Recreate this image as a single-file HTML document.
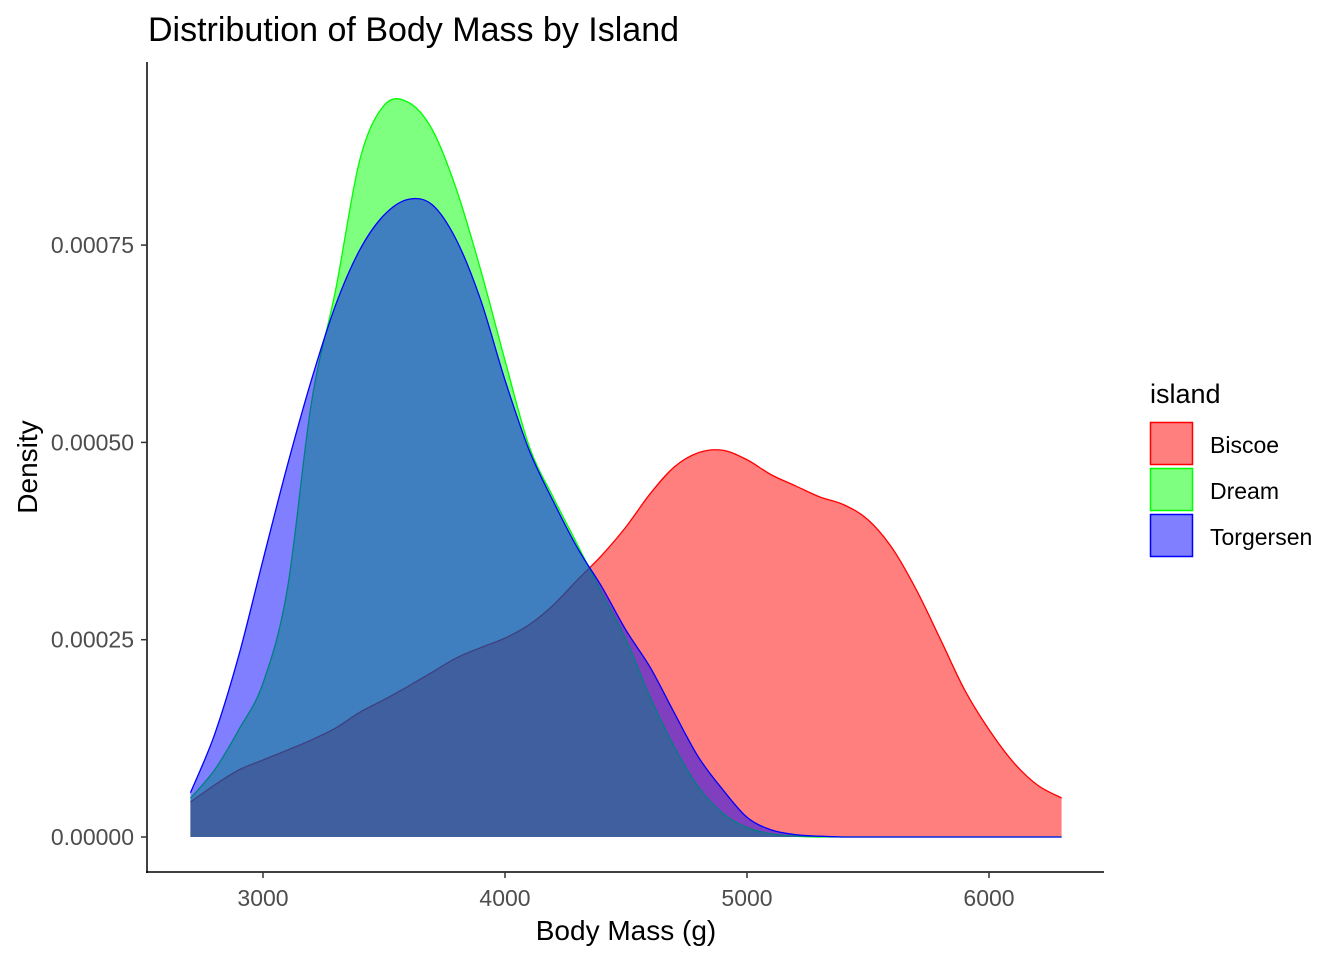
<!DOCTYPE html>
<html><head><meta charset="utf-8"><style>
body{margin:0;background:#fff;}
svg{display:block;font-family:"Liberation Sans",Arial,sans-serif;}
</style></head><body>
<svg id="chart" width="1344" height="960">
<text x="148" y="41" font-size="34" fill="#000">Distribution of Body Mass by Island</text>
<g id="plot"></g>
<line x1="147" y1="62" x2="147" y2="873" stroke="#000" stroke-width="1.5"/>
<line x1="146" y1="872" x2="1104" y2="872" stroke="#000" stroke-width="1.5"/>
<g id="xticks"></g>
<g id="yticks"></g>
<text x="626" y="940" font-size="28" text-anchor="middle">Body Mass (g)</text>
<text transform="translate(37,467) rotate(-90)" font-size="28" text-anchor="middle">Density</text>
<g>
<text x="1150" y="403" font-size="27">island</text>
<g><rect x="1150.5" y="422.5" width="42" height="42" fill="rgba(255,0,0,0.5)" stroke="#f00" stroke-width="1.5"/><text x="1210" y="453" font-size="23">Biscoe</text></g>
<g><rect x="1150.5" y="468.5" width="42" height="42" fill="rgba(0,255,0,0.5)" stroke="#0f0" stroke-width="1.5"/><text x="1210" y="499" font-size="23">Dream</text></g>
<g><rect x="1150.5" y="514.5" width="42" height="42" fill="rgba(0,0,255,0.5)" stroke="#00f" stroke-width="1.5"/><text x="1210" y="545" font-size="23">Torgersen</text></g>
</g>
</svg>
<script>
const massGrid = [2700,2800,2900,3000,3100,3200,3300,3400,3500,3600,3700,3800,3900,4000,4100,4200,4300,4400,4500,4600,4700,4800,4900,5000,5100,5200,5300,5400,5500,5600,5700,5800,5900,6000,6100,6200,6300];
const biscoeDensity = [0.0000443,0.0000659,0.0000849,0.0000976,0.000110,0.000123,0.000138,0.000158,0.000174,0.000191,0.000209,0.000227,0.000240,0.000252,0.000269,0.000294,0.000326,0.000357,0.000393,0.000435,0.000469,0.000487,0.000490,0.000478,0.000459,0.000445,0.000431,0.000421,0.000402,0.000366,0.000313,0.000250,0.000186,0.000136,0.0000950,0.0000659,0.0000494];
const dreamDensity = [0.0000490,0.0000850,0.000136,0.000195,0.000313,0.000550,0.000693,0.000858,0.000927,0.000931,0.000896,0.000820,0.000718,0.000604,0.000495,0.000430,0.000370,0.000309,0.000250,0.000177,0.000114,0.0000630,0.0000300,0.0000120,0.0000040,0.0000010,0,0,0,0,0,0,0,0,0,0,0];
const torgersenDensity = [0.0000560,0.000130,0.000230,0.000351,0.000470,0.000579,0.000674,0.000744,0.000788,0.000808,0.000801,0.000756,0.000680,0.000579,0.000490,0.000425,0.000366,0.000317,0.000262,0.000215,0.000157,0.000101,0.0000600,0.0000250,0.0000090,0.0000030,0.0000010,0,0,0,0,0,0,0,0,0,0];
const xTicks = [3000,4000,5000,6000];
const yTicks = [0,0.00025,0.0005,0.00075];
const yTickLabels = ["0.00000","0.00025","0.00050","0.00075"];

const NS="http://www.w3.org/2000/svg";
const xScale = v => 263 + (v-3000)*0.242;
const yScale = v => 837 - v/0.00025*197.3;

function pathFor(vals){
  const pts = massGrid.map((m,i)=>[xScale(m), yScale(vals[i])]);
  let d = "M"+pts[0][0]+","+pts[0][1];
  for(let i=0;i<pts.length-1;i++){
    const p0=pts[Math.max(0,i-1)],p1=pts[i],p2=pts[i+1],p3=pts[Math.min(pts.length-1,i+2)];
    const c1=[p1[0]+(p2[0]-p0[0])/6, p1[1]+(p2[1]-p0[1])/6];
    const c2=[p2[0]-(p3[0]-p1[0])/6, p2[1]-(p3[1]-p1[1])/6];
    d+=" C"+c1[0]+","+Math.min(c1[1],yScale(0))+" "+c2[0]+","+Math.min(c2[1],yScale(0))+" "+p2[0]+","+p2[1];
  }
  return d;
}
const plot=document.getElementById("plot");
const series=[["biscoe",biscoeDensity,"rgba(255,0,0,0.5)","#ff0000"],["dream",dreamDensity,"rgba(0,255,0,0.5)","#00ff00"],["torgersen",torgersenDensity,"rgba(0,0,255,0.5)","#0000ff"]];
series.forEach(s=>{
  const line=pathFor(s[1]);
  const area=document.createElementNS(NS,"path");
  area.setAttribute("d", line+" L"+xScale(massGrid[massGrid.length-1])+","+yScale(0)+" L"+xScale(massGrid[0])+","+yScale(0)+" Z");
  area.setAttribute("fill",s[2]);
  
  
  plot.appendChild(area);
  const ln=document.createElementNS(NS,"path");
  ln.setAttribute("d",line);
  ln.setAttribute("fill","none");
  ln.setAttribute("stroke",s[3]);
  ln.setAttribute("stroke-width","1.3");
  
  
  plot.appendChild(ln);
});
const xg=document.getElementById("xticks");
xTicks.forEach(t=>{
  const x=xScale(t);
  const l=document.createElementNS(NS,"line");
  l.setAttribute("x1",x);l.setAttribute("x2",x);l.setAttribute("y1",872);l.setAttribute("y2",878);
  l.setAttribute("stroke","#333");l.setAttribute("stroke-width","1.5");
  
  
  xg.appendChild(l);
  const tx=document.createElementNS(NS,"text");
  tx.setAttribute("x",x);tx.setAttribute("y",906);tx.setAttribute("font-size","23");
  tx.setAttribute("text-anchor","middle");tx.setAttribute("fill","#4d4d4d");
  tx.textContent=t;
  
  
  xg.appendChild(tx);
});
const yg=document.getElementById("yticks");
yTicks.forEach((t,i)=>{
  const y=yScale(t);
  const l=document.createElementNS(NS,"line");
  l.setAttribute("x1",141);l.setAttribute("x2",147);l.setAttribute("y1",y);l.setAttribute("y2",y);
  l.setAttribute("stroke","#333");l.setAttribute("stroke-width","1.5");
  
  
  yg.appendChild(l);
  const tx=document.createElementNS(NS,"text");
  tx.setAttribute("x",134);tx.setAttribute("y",y+8);tx.setAttribute("font-size","23");
  tx.setAttribute("text-anchor","end");tx.setAttribute("fill","#4d4d4d");
  tx.textContent=yTickLabels[i];
  
  
  yg.appendChild(tx);
});
</script>
</body></html>
